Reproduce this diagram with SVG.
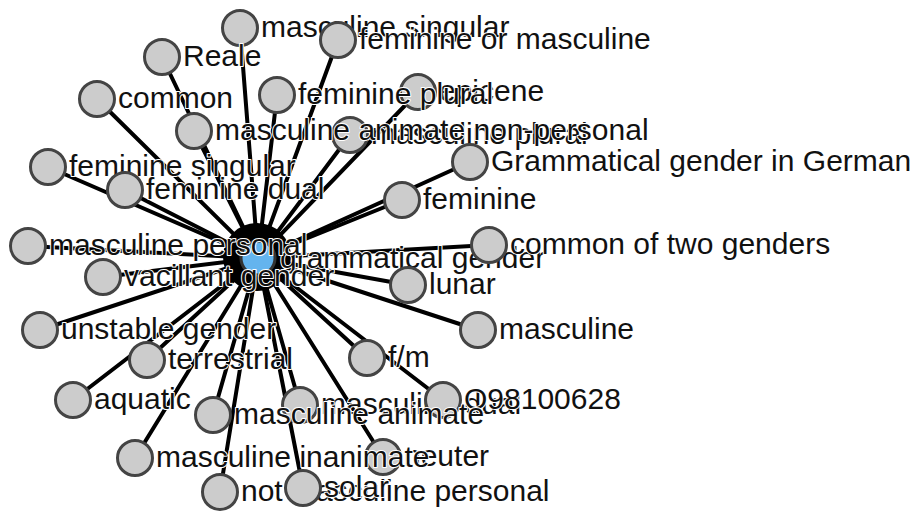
<svg xmlns="http://www.w3.org/2000/svg" width="920" height="513" viewBox="0 0 920 513">
<style>
.e line{stroke:#000;stroke-width:4;stroke-linecap:round}
.n circle{fill:#cccccc;stroke:#444;stroke-width:3}
.n text,.h text{font-family:"Liberation Sans",Arial,Helvetica,sans-serif;font-size:30px;fill:#111;stroke:#fff;stroke-width:2;paint-order:stroke;stroke-linejoin:round}
</style>
<rect width="920" height="513" fill="#fff"/>
<g id="connectors" class="e">
<line x1="258" y1="258" x2="240" y2="28"/>
<line x1="258" y1="258" x2="338" y2="40"/>
<line x1="258" y1="258" x2="162" y2="57"/>
<line x1="258" y1="258" x2="97" y2="99"/>
<line x1="258" y1="258" x2="277" y2="95"/>
<line x1="258" y1="258" x2="418" y2="92"/>
<line x1="258" y1="258" x2="194" y2="131"/>
<line x1="258" y1="258" x2="350" y2="135"/>
<line x1="258" y1="258" x2="470" y2="162"/>
<line x1="258" y1="258" x2="48" y2="167"/>
<line x1="258" y1="258" x2="125" y2="190"/>
<line x1="258" y1="258" x2="402" y2="200"/>
<line x1="258" y1="258" x2="28" y2="246"/>
<line x1="258" y1="258" x2="489" y2="245"/>
<line x1="258" y1="258" x2="103" y2="277"/>
<line x1="258" y1="258" x2="408" y2="285"/>
<line x1="258" y1="258" x2="40" y2="330"/>
<line x1="258" y1="258" x2="478" y2="330"/>
<line x1="258" y1="258" x2="147" y2="360"/>
<line x1="258" y1="258" x2="367" y2="358"/>
<line x1="258" y1="258" x2="73" y2="400"/>
<line x1="258" y1="258" x2="300" y2="405"/>
<line x1="258" y1="258" x2="443" y2="400"/>
<line x1="258" y1="258" x2="213" y2="415"/>
<line x1="258" y1="258" x2="135" y2="458"/>
<line x1="258" y1="258" x2="383" y2="457"/>
<line x1="258" y1="258" x2="220" y2="492"/>
<line x1="258" y1="258" x2="303" y2="488"/>
<circle cx="257" cy="257" r="34" fill="#000"/>
</g>
<g id="n-grammatical-gender" class="h">
<circle cx="258" cy="258" r="17" fill="#64b4ee" stroke="#333" stroke-width="3"/>
<text x="280" y="268">grammatical gender</text>
</g>
<g id="n-masculine-singular" class="n"><circle cx="240" cy="28" r="17.5"/><text x="261" y="37">masculine singular</text></g>
<g id="n-feminine-or-masculine" class="n"><circle cx="338" cy="40" r="17.5"/><text x="359" y="49">feminine or masculine</text></g>
<g id="n-reale" class="n"><circle cx="162" cy="57" r="17.5"/><text x="183" y="66">Reale</text></g>
<g id="n-common" class="n"><circle cx="97" cy="99" r="17.5"/><text x="118" y="108">common</text></g>
<g id="n-epicene" class="n"><circle cx="418" cy="92" r="17.5"/><text x="439" y="101">epicene</text></g>
<g id="n-feminine-plural" class="n"><circle cx="277" cy="95" r="17.5"/><text x="298" y="104">feminine plural</text></g>
<g id="n-masculine-plural" class="n"><circle cx="350" cy="135" r="17.5"/><text x="371" y="144">masculine plural</text></g>
<g id="n-masculine-animate-non-personal" class="n"><circle cx="194" cy="131" r="17.5"/><text x="215" y="140">masculine animate non-personal</text></g>
<g id="n-grammatical-gender-in-german" class="n"><circle cx="470" cy="162" r="17.5"/><text x="491" y="171">Grammatical gender in German</text></g>
<g id="n-feminine-singular" class="n"><circle cx="48" cy="167" r="17.5"/><text x="69" y="176">feminine singular</text></g>
<g id="n-feminine-dual" class="n"><circle cx="125" cy="190" r="17.5"/><text x="146" y="199">feminine dual</text></g>
<g id="n-feminine" class="n"><circle cx="402" cy="200" r="17.5"/><text x="423" y="209">feminine</text></g>
<g id="n-common-of-two-genders" class="n"><circle cx="489" cy="245" r="17.5"/><text x="510" y="254">common of two genders</text></g>
<g id="n-masculine-personal" class="n"><circle cx="28" cy="246" r="17.5"/><text x="49" y="255">masculine personal</text></g>
<g id="n-vacillant-gender" class="n"><circle cx="103" cy="277" r="17.5"/><text x="124" y="286">vacillant gender</text></g>
<g id="n-lunar" class="n"><circle cx="408" cy="285" r="17.5"/><text x="429" y="294">lunar</text></g>
<g id="n-unstable-gender" class="n"><circle cx="40" cy="330" r="17.5"/><text x="61" y="339">unstable gender</text></g>
<g id="n-masculine" class="n"><circle cx="478" cy="330" r="17.5"/><text x="499" y="339">masculine</text></g>
<g id="n-terrestrial" class="n"><circle cx="147" cy="360" r="17.5"/><text x="168" y="369">terrestrial</text></g>
<g id="n-f-m" class="n"><circle cx="367" cy="358" r="17.5"/><text x="388" y="367">f/m</text></g>
<g id="n-aquatic" class="n"><circle cx="73" cy="400" r="17.5"/><text x="94" y="409">aquatic</text></g>
<g id="n-masculine-dual" class="n"><circle cx="300" cy="405" r="17.5"/><text x="321" y="414">masculine dual</text></g>
<g id="n-q98100628" class="n"><circle cx="443" cy="400" r="17.5"/><text x="464" y="409">Q98100628</text></g>
<g id="n-masculine-animate" class="n"><circle cx="213" cy="415" r="17.5"/><text x="234" y="424">masculine animate</text></g>
<g id="n-neuter" class="n"><circle cx="383" cy="457" r="17.5"/><text x="404" y="466">neuter</text></g>
<g id="n-masculine-inanimate" class="n"><circle cx="135" cy="458" r="17.5"/><text x="156" y="467">masculine inanimate</text></g>
<g id="n-not-masculine-personal" class="n"><circle cx="220" cy="492" r="17.5"/><text x="241" y="501">not masculine personal</text></g>
<g id="n-solar" class="n"><circle cx="303" cy="488" r="17.5"/><text x="324" y="497">solar</text></g>
</svg>
